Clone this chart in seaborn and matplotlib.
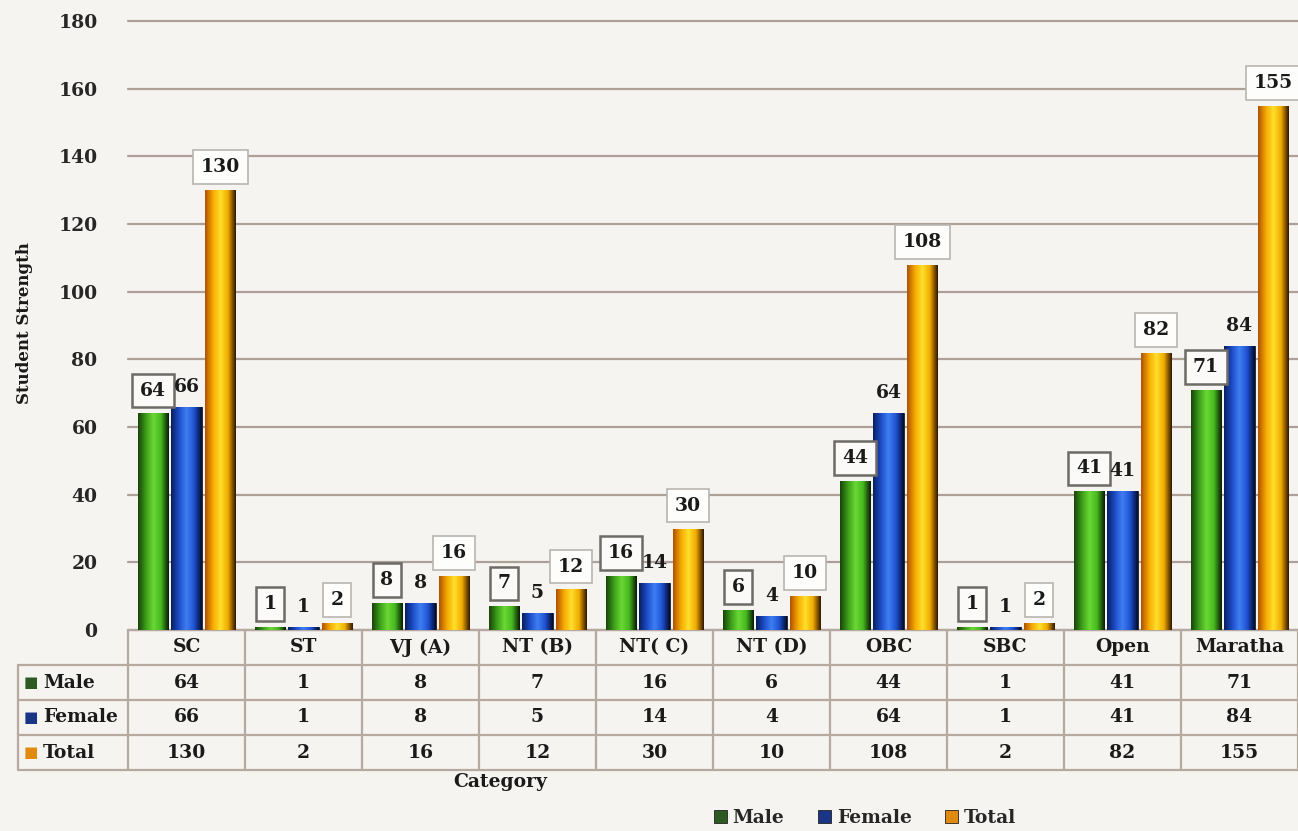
import matplotlib
matplotlib.use('Agg')
import matplotlib.pyplot as plt
import numpy as np
import pandas as pd
import seaborn as sns
from matplotlib.colors import LinearSegmentedColormap
from matplotlib.lines import Line2D
from matplotlib.patches import Patch

categories = ['SC', 'ST', 'VJ (A)', 'NT (B)', 'NT( C)', 'NT (D)', 'OBC', 'SBC', 'Open', 'Maratha']
male = [64, 1, 8, 7, 16, 6, 44, 1, 41, 71]
female = [66, 1, 8, 5, 14, 4, 64, 1, 41, 84]
total = [130, 2, 16, 12, 30, 10, 108, 2, 82, 155]
series_names = ['Male', 'Female', 'Total']
y_ticks = [0, 20, 40, 60, 80, 100, 120, 140, 160, 180]

# gradient stops per series: dark edge -> bright middle -> darker edge
GRADIENTS = {
    'Male': ['#1a440a', '#3b9c1a', '#6ad934', '#46b81f', '#081c04'],
    'Female': ['#08205f', '#1c4bc8', '#3f7ff2', '#1f52d2', '#040c30'],
    'Total': ['#b05200', '#f5a800', '#ffe02a', '#f0aa00', '#341800'],
}
FLAT = {'Male': '#3a9a1c', 'Female': '#1d47c0', 'Total': '#f5a800'}
LEGEND_SQ = {'Male': '#2c5a22', 'Female': '#1a3585', 'Total': '#e08a10'}

BG = '#f6f4f1'
GRID = '#ada097'
FONT = 'DejaVu Serif'

sns.set_style('white')
plt.rcParams['font.family'] = FONT
plt.rcParams['font.weight'] = 'bold'

df = pd.DataFrame({
    'Category': categories * 3,
    'Series': [s for s in series_names for _ in categories],
    'Value': male + female + total,
})

W, H = 1298, 831
fig = plt.figure(figsize=(W / 100, H / 100), dpi=100, facecolor=BG)
ax_left, ax_right, ax_top, ax_bot = 128, 1298, 21, 630
ax = fig.add_axes([ax_left / W, 1 - ax_bot / H, (ax_right - ax_left) / W, (ax_bot - ax_top) / H])
ax.set_facecolor(BG)

sns.barplot(data=df, x='Category', y='Value', hue='Series', hue_order=series_names,
            order=categories, palette=FLAT, width=0.86, gap=0.08, legend=False,
            edgecolor='#1a1a1a', linewidth=0.6, ax=ax, zorder=3)

# horizontal bevel gradient drawn inside each seaborn bar
for name, cont in zip(series_names, ax.containers):
    cmap = LinearSegmentedColormap.from_list(name, GRADIENTS[name])
    grad = np.linspace(0, 1, 64).reshape(1, -1)
    for p in cont.patches:
        x0, w, h = p.get_x(), p.get_width(), p.get_height()
        if h <= 0:
            continue
        im = ax.imshow(grad, cmap=cmap, extent=(x0, x0 + w, 0, h), aspect='auto',
                       origin='lower', zorder=3.5, interpolation='bilinear')
        im.set_clip_path(p)

ax.set_xlim(-0.5, len(categories) - 0.5)
ax.set_ylim(0, 180)
ax.set_yticks(y_ticks)
ax.set_yticklabels([str(t) for t in y_ticks], fontsize=13.5, fontweight='bold')
ax.tick_params(axis='y', length=0, pad=22)
ax.set_xticks([])
ax.set_xlabel('')
ax.set_ylabel('')
for s in ax.spines.values():
    s.set_visible(False)
ax.yaxis.grid(True, color=GRID, linewidth=1.6, zorder=0)
ax.set_axisbelow(True)
for gl in ax.get_ygridlines():
    gl.set_clip_on(False)

# value labels: Male and Total boxed, Female plain
box_male = dict(boxstyle='square,pad=0.42', fc='#fbfaf8', ec='#6e6a66', lw=1.8)
box_total = dict(boxstyle='square,pad=0.42', fc='#fdfdfc', ec='#b9b5b0', lw=1.2)
for name, cont in zip(series_names, ax.containers):
    kw = dict(padding=10, fontsize=13.5, fontweight='bold', color='#1a1a1a', zorder=5)
    if name == 'Male':
        kw['bbox'] = box_male
    elif name == 'Total':
        kw['bbox'] = box_total
    else:
        kw['padding'] = 8
    ax.bar_label(cont, labels=[str(int(v)) for v in cont.datavalues], **kw)

# data table under the plot
trans = ax.get_xaxis_transform()
px = ax_bot - ax_top
row_h = 35 / px
n = len(categories)
lab_left = -0.5 - (ax_left - 18) / 117
line_kw = dict(color='#b6a99f', lw=1.6, transform=trans, clip_on=False, zorder=1)
ax.add_line(Line2D([-0.5, n - 0.5], [0, 0], **line_kw))
for r in range(1, 5):
    ax.add_line(Line2D([lab_left, n - 0.5], [-r * row_h, -r * row_h], **line_kw))
for i in range(n + 1):
    ax.add_line(Line2D([i - 0.5, i - 0.5], [0, -4 * row_h], **line_kw))
ax.add_line(Line2D([lab_left, lab_left], [-row_h, -4 * row_h], **line_kw))

for i, c in enumerate(categories):
    ax.text(i, -0.5 * row_h, c, transform=trans, ha='center', va='center',
            fontsize=13.5, fontweight='bold', color='#1a1a1a')
for r, (name, vals) in enumerate(zip(series_names, [male, female, total]), start=1):
    yc = -(r + 0.5) * row_h
    ax.text(lab_left + 6 / 117, yc, '■', transform=trans, ha='left', va='center',
            fontsize=11, color=LEGEND_SQ[name], family='DejaVu Sans')
    ax.text(lab_left + 25 / 117, yc, name, transform=trans, ha='left', va='center',
            fontsize=13.5, fontweight='bold', color='#1a1a1a')
    for i, v in enumerate(vals):
        ax.text(i, yc, str(v), transform=trans, ha='center', va='center',
                fontsize=13.5, fontweight='bold', color='#1a1a1a')

fig.text(25 / W, 1 - 323 / H, 'Student Strength', rotation=90, ha='center', va='center',
         fontsize=12, fontweight='bold', color='#1a1a1a')
fig.text(500 / W, 1 - 782 / H, 'Category', ha='center', va='center',
         fontsize=13.5, fontweight='bold', color='#1a1a1a')

handles = [Patch(facecolor=LEGEND_SQ[s], edgecolor='#222222', lw=0.6) for s in series_names]
fig.legend(handles, series_names, loc='center', bbox_to_anchor=(865 / W, 1 - 818 / H),
           ncol=3, frameon=False, handlelength=0.7, handleheight=0.7, handletextpad=0.3,
           columnspacing=1.8, prop={'family': FONT, 'weight': 'bold', 'size': 13.5})

fig.savefig('out.png', dpi=100, facecolor=BG)
